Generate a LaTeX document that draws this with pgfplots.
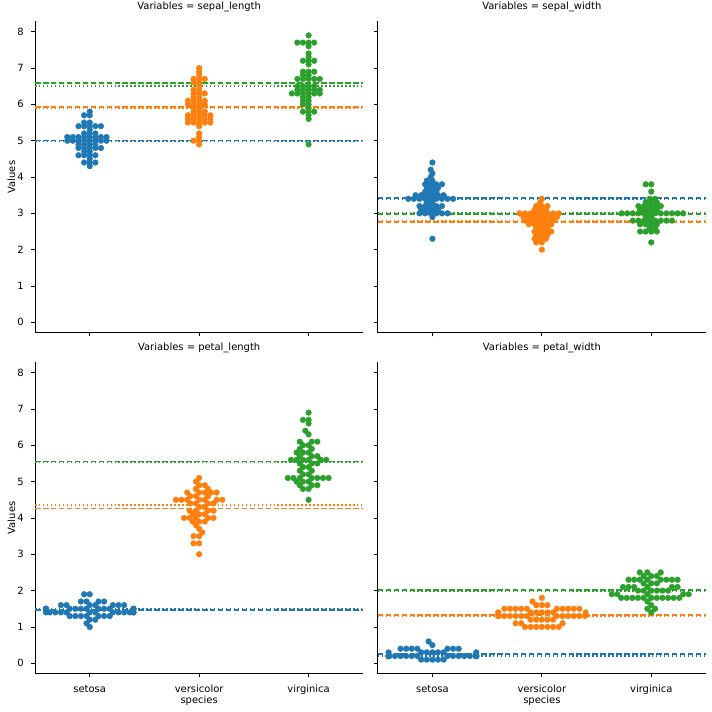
\documentclass[border=0pt]{standalone}
\usepackage{fontspec}
\setmainfont{DejaVu Sans}
\usepackage{pgfplots}
\pgfplotsset{compat=1.18}
\definecolor{cblue}{HTML}{1F77B4}
\definecolor{corange}{HTML}{FF7F0E}
\definecolor{cgreen}{HTML}{2CA02C}
\pgfplotsset{
  table/row sep=\\,
  facet/.style={
    scale only axis, width=328.3bp, height=311.7bp,
    xmin=-0.5, xmax=2.5, ymin=-0.29, ymax=8.29,
    axis lines*=left,
    axis line style={line width=0.8bp, black},
    xtick={0,1,2}, ytick={0,1,2,3,4,5,6,7,8},
    tick align=outside, major tick length=3.5bp,
    every tick/.style={black, line width=0.8bp},
    tick label style={font=\fontsize{10}{12}\selectfont, text=black},
    /pgf/number format/assume math mode=true,
    yticklabel style={anchor=east, inner sep=0pt, xshift=-7.5bp},
    xticklabel style={anchor=base, inner sep=0pt, yshift=-15.3bp},
    title style={at={(0.5,1)}, anchor=base, yshift=5.5bp, font=\fontsize{10}{12}\selectfont, inner sep=0pt},
    label style={font=\fontsize{10}{12}\selectfont},
    ylabel style={at={(axis description cs:-0.0609,0.5)}, anchor=base, inner sep=0pt},
    xlabel style={at={(axis description cs:0.5,-0.094)}, anchor=base, inner sep=0pt},
  },
  sw/.style={only marks, mark=*, mark size=2.85bp, mark options={draw=none}},
  mn/.style={line width=1.8bp, dash pattern=on 5.55bp off 2.4bp, forget plot},
  md/.style={line width=1.8bp, dash pattern=on 1.5bp off 2.475bp, forget plot},
}
\begin{document}
\begin{tikzpicture}[x=1bp,y=1bp]
\path[use as bounding box] (0,0) rectangle (712,712);

% ---------------- sepal_length ----------------
\begin{axis}[facet, at={(35bp,379.1bp)}, anchor=south west,
  title={Variables = sepal\_length}, ylabel={Values}, xticklabels={}]
\addplot[sw, cblue] table[x expr=\thisrow{d}*0.00975, y=v] {d v\\
0 4.3\\ 0 4.4\\ -5.25 4.4\\ 5.25 4.4\\ 0 4.5\\
0 4.6\\ -5.25 4.6\\ 5.25 4.6\\ -10.5 4.6\\ 0 4.7\\ -5.25 4.7\\
0 4.8\\ -5.25 4.8\\ 5.25 4.8\\ -10.5 4.8\\ 10.5 4.8\\
0 4.9\\ -5.25 4.9\\ 5.25 4.9\\ -10.5 4.9\\
0 5.0\\ -5.25 5.0\\ 5.25 5.0\\ -10.5 5.0\\ 10.5 5.0\\ -15.75 5.0\\ 15.75 5.0\\ -21 5.0\\
0 5.1\\ -5.25 5.1\\ 5.25 5.1\\ -10.5 5.1\\ 10.5 5.1\\ -15.75 5.1\\ 15.75 5.1\\ -21 5.1\\
0 5.2\\ -5.25 5.2\\ 5.25 5.2\\ 0 5.3\\
0 5.4\\ -5.25 5.4\\ 5.25 5.4\\ -10.5 5.4\\ 10.5 5.4\\
0 5.5\\ -5.25 5.5\\ 0 5.7\\ -5.25 5.7\\ 0 5.8\\
};
\addplot[sw, corange] table[x expr=1+\thisrow{d}*0.00975, y=v] {d v\\
0 4.9\\ 0 5.0\\ -5.25 5.0\\ 0 5.1\\ 0 5.2\\ 0 5.4\\
0 5.5\\ -5.25 5.5\\ 5.25 5.5\\ -10.5 5.5\\ 10.5 5.5\\
0 5.6\\ -5.25 5.6\\ 5.25 5.6\\ -10.5 5.6\\ 10.5 5.6\\
0 5.7\\ -5.25 5.7\\ 5.25 5.7\\ -10.5 5.7\\ 10.5 5.7\\
0 5.8\\ -5.25 5.8\\ 5.25 5.8\\ 0 5.9\\ -5.25 5.9\\
0 6.0\\ -5.25 6.0\\ 5.25 6.0\\ -10.5 6.0\\
0 6.1\\ -5.25 6.1\\ 5.25 6.1\\ -10.5 6.1\\
0 6.2\\ -5.25 6.2\\ 0 6.3\\ -5.25 6.3\\ 5.25 6.3\\
0 6.4\\ -5.25 6.4\\ 0 6.5\\ 0 6.6\\ -5.25 6.6\\
0 6.7\\ -5.25 6.7\\ 5.25 6.7\\ 0 6.8\\ 0 6.9\\ 0 7.0\\
};
\addplot[sw, cgreen] table[x expr=2+\thisrow{d}*0.00975, y=v] {d v\\
0 4.9\\ 0 5.6\\ 0 5.7\\ 0 5.8\\ -5.25 5.8\\ 5.25 5.8\\ 0 5.9\\
0 6.0\\ -5.25 6.0\\ 0 6.1\\ -5.25 6.1\\ 0 6.2\\ -5.25 6.2\\
0 6.3\\ -5.25 6.3\\ 5.25 6.3\\ -10.5 6.3\\ 10.5 6.3\\ -15.75 6.3\\
0 6.4\\ -5.25 6.4\\ 5.25 6.4\\ -10.5 6.4\\ 10.5 6.4\\
0 6.5\\ -5.25 6.5\\ 5.25 6.5\\ -10.5 6.5\\
0 6.7\\ -5.25 6.7\\ 5.25 6.7\\ -10.5 6.7\\ 10.5 6.7\\
0 6.8\\ -5.25 6.8\\ 0 6.9\\ -5.25 6.9\\ 5.25 6.9\\
0 7.1\\ 0 7.2\\ -5.25 7.2\\ 5.25 7.2\\ 0 7.3\\ 0 7.4\\ 0 7.6\\
0 7.7\\ -5.25 7.7\\ 5.25 7.7\\ -10.5 7.7\\ 0 7.9\\
};
\addplot[cblue, mn] coordinates {(-0.5,5.006) (2.5,5.006)};
\addplot[cblue, md] coordinates {(-0.5,5.0) (2.5,5.0)};
\addplot[corange, mn] coordinates {(-0.5,5.936) (2.5,5.936)};
\addplot[corange, md] coordinates {(-0.5,5.9) (2.5,5.9)};
\addplot[cgreen, mn] coordinates {(-0.5,6.588) (2.5,6.588)};
\addplot[cgreen, md] coordinates {(-0.5,6.5) (2.5,6.5)};
\end{axis}

% ---------------- sepal_width ----------------
\begin{axis}[facet, at={(377.7bp,379.1bp)}, anchor=south west,
  title={Variables = sepal\_width}, xticklabels={}, yticklabels={}]
\addplot[sw, cblue] table[x expr=\thisrow{d}*0.00975, y=v] {d v\\
0 2.3\\ 0 2.9\\
-1.6 3.0\\ 3.65 3.0\\ -6.85 3.0\\ 8.9 3.0\\ -12.1 3.0\\ 14.15 3.0\\
0 3.1\\ -5.25 3.1\\ 5.25 3.1\\ -10.5 3.1\\
-1.6 3.2\\ 3.65 3.2\\ -6.85 3.2\\ 8.9 3.2\\ -12.1 3.2\\
0 3.3\\ -5.25 3.3\\
-1.6 3.4\\ 3.65 3.4\\ -6.85 3.4\\ 8.9 3.4\\ -12.1 3.4\\ 14.15 3.4\\ -17.35 3.4\\ 19.4 3.4\\ -22.6 3.4\\
0 3.5\\ -5.25 3.5\\ 5.25 3.5\\ -10.5 3.5\\ 10.5 3.5\\ -15.75 3.5\\
-1.6 3.6\\ 3.65 3.6\\ -6.85 3.6\\
0 3.7\\ -5.25 3.7\\ 5.25 3.7\\
-1.6 3.8\\ 3.65 3.8\\ -6.85 3.8\\ 8.9 3.8\\
0 3.9\\ -5.25 3.9\\ -1.6 4.0\\ 0 4.1\\ -1.6 4.2\\ 0 4.4\\
};
\addplot[sw, corange] table[x expr=1+\thisrow{d}*0.00975, y=v] {d v\\
0 2.0\\ 0 2.2\\ -5.25 2.2\\
-1.6 2.3\\ 3.65 2.3\\ -6.85 2.3\\
0 2.4\\ -5.25 2.4\\ 5.25 2.4\\
-1.6 2.5\\ 3.65 2.5\\ -6.85 2.5\\ 8.9 2.5\\
0 2.6\\ -5.25 2.6\\ 5.25 2.6\\
-1.6 2.7\\ 3.65 2.7\\ -6.85 2.7\\ 8.9 2.7\\ -12.1 2.7\\
0 2.8\\ -5.25 2.8\\ 5.25 2.8\\ -10.5 2.8\\ 10.5 2.8\\ -15.75 2.8\\
-1.6 2.9\\ 3.65 2.9\\ -6.85 2.9\\ 8.9 2.9\\ -12.1 2.9\\ 14.15 2.9\\ -17.35 2.9\\
0 3.0\\ -5.25 3.0\\ 5.25 3.0\\ -10.5 3.0\\ 10.5 3.0\\ -15.75 3.0\\ 15.75 3.0\\ -21 3.0\\
-1.6 3.1\\ 3.65 3.1\\ -6.85 3.1\\
0 3.2\\ -5.25 3.2\\ 5.25 3.2\\
-1.6 3.3\\ 0 3.4\\
};
\addplot[sw, cgreen] table[x expr=2+\thisrow{d}*0.00975, y=v] {d v\\
0 2.2\\
0 2.5\\ -5.25 2.5\\ 5.25 2.5\\ -10.5 2.5\\
-1.6 2.6\\ 3.65 2.6\\
0 2.7\\ -5.25 2.7\\ 5.25 2.7\\ -10.5 2.7\\
-1.6 2.8\\ 3.65 2.8\\ -6.85 2.8\\ 8.9 2.8\\ -12.1 2.8\\ 14.15 2.8\\ -17.35 2.8\\ 19.4 2.8\\
0 2.9\\ -5.25 2.9\\
-1.6 3.0\\ 3.65 3.0\\ -6.85 3.0\\ 8.9 3.0\\ -12.1 3.0\\ 14.15 3.0\\ -17.35 3.0\\ 19.4 3.0\\ -22.6 3.0\\ 24.65 3.0\\ -27.85 3.0\\ 29.9 3.0\\
0 3.1\\ -5.25 3.1\\ 5.25 3.1\\ -10.5 3.1\\
-1.6 3.2\\ 3.65 3.2\\ -6.85 3.2\\ 8.9 3.2\\ -12.1 3.2\\
0 3.3\\ -5.25 3.3\\ 5.25 3.3\\
-1.6 3.4\\ 3.65 3.4\\ 0 3.6\\ 0 3.8\\ -5.25 3.8\\
};
\addplot[cblue, mn] coordinates {(-0.5,3.428) (2.5,3.428)};
\addplot[cblue, md] coordinates {(-0.5,3.4) (2.5,3.4)};
\addplot[corange, mn] coordinates {(-0.5,2.770) (2.5,2.770)};
\addplot[corange, md] coordinates {(-0.5,2.8) (2.5,2.8)};
\addplot[cgreen, mn] coordinates {(-0.5,2.974) (2.5,2.974)};
\addplot[cgreen, md] coordinates {(-0.5,3.0) (2.5,3.0)};
\end{axis}

% ---------------- petal_length ----------------
\begin{axis}[facet, at={(35bp,38.2bp)}, anchor=south west,
  title={Variables = petal\_length}, ylabel={Values}, xlabel={species},
  xticklabels={setosa,versicolor,virginica}]
\addplot[sw, cblue] table[x expr=\thisrow{d}*0.00975, y=v] {d v\\
0 1.0\\ -2.99 1.1\\ 0 1.2\\ 5.25 1.2\\
-18.74 1.3\\ -13.49 1.3\\ -8.24 1.3\\ -2.99 1.3\\ 8.24 1.3\\ 13.49 1.3\\ 18.74 1.3\\
0 1.4\\ 5.25 1.4\\ 21.73 1.4\\ -21.73 1.4\\ 26.98 1.4\\ -26.98 1.4\\ 32.23 1.4\\ -32.23 1.4\\ 37.48 1.4\\ -37.48 1.4\\ 41.03 1.4\\ -41.03 1.4\\ 41.03 1.4\\
-2.99 1.5\\ 8.24 1.5\\ -8.24 1.5\\ 13.49 1.5\\ -13.49 1.5\\ 18.74 1.5\\ -18.74 1.5\\ -41.03 1.5\\ -41.03 1.5\\ -41.03 1.5\\ 41.03 1.5\\ 41.03 1.5\\ 41.03 1.5\\
0 1.6\\ 5.25 1.6\\ 21.73 1.6\\ -21.73 1.6\\ 26.98 1.6\\ -26.98 1.6\\ 32.23 1.6\\
-2.99 1.7\\ 8.24 1.7\\ -8.24 1.7\\ 13.49 1.7\\
0 1.9\\ -5.25 1.9\\
};
\addplot[sw, corange] table[x expr=1+\thisrow{d}*0.00975, y=v] {d v\\
0 3.0\\ 0 3.3\\ -5.25 3.3\\ 0 3.5\\ -5.25 3.5\\
2.99 3.6\\ 0 3.7\\ -2.99 3.8\\
0 3.9\\ 5.25 3.9\\ -5.98 3.9\\
-14.22 4.0\\ -8.97 4.0\\ -2.99 4.0\\ 8.24 4.0\\ 13.49 4.0\\
0 4.1\\ 5.25 4.1\\ -5.98 4.1\\
-2.99 4.2\\ 8.24 4.2\\ -8.97 4.2\\ 13.49 4.2\\
0 4.3\\ 5.25 4.3\\
-2.99 4.4\\ 8.24 4.4\\ -8.24 4.4\\ 13.49 4.4\\
0 4.5\\ 5.25 4.5\\ -11.23 4.5\\ 16.48 4.5\\ -16.48 4.5\\ 21.73 4.5\\ -21.73 4.5\\
-8.24 4.6\\ -2.99 4.6\\ 8.24 4.6\\
0 4.7\\ 5.25 4.7\\ 11.23 4.7\\ -11.23 4.7\\ 16.48 4.7\\
-2.99 4.8\\ 8.24 4.8\\ 0 4.9\\ 5.25 4.9\\
-2.99 5.0\\ 0 5.1\\
};
\addplot[sw, cgreen] table[x expr=2+\thisrow{d}*0.00975, y=v] {d v\\
0 4.5\\ 0 4.8\\ -5.25 4.8\\
-8.24 4.9\\ 2.99 4.9\\ 8.24 4.9\\
-11.23 5.0\\ -5.25 5.0\\ 0 5.0\\
-19.47 5.1\\ -14.22 5.1\\ -8.24 5.1\\ 2.99 5.1\\ 8.24 5.1\\ 13.49 5.1\\ 18.74 5.1\\
0 5.2\\ -5.25 5.2\\ -8.24 5.3\\ 2.99 5.3\\ 0 5.4\\ -5.25 5.4\\
2.99 5.5\\ -8.24 5.5\\ 8.24 5.5\\
-16.48 5.6\\ -11.23 5.6\\ -5.25 5.6\\ 0 5.6\\ 11.23 5.6\\ 16.48 5.6\\
-8.24 5.7\\ 2.99 5.7\\ 8.24 5.7\\
0 5.8\\ -5.25 5.8\\ -11.23 5.8\\
2.99 5.9\\ -8.24 5.9\\ 0 6.0\\ -5.25 6.0\\
2.99 6.1\\ -8.24 6.1\\ 8.24 6.1\\
0 6.3\\ -2.99 6.4\\ 0 6.6\\ 0 6.7\\ -5.25 6.7\\ 0 6.9\\
};
\addplot[cblue, mn] coordinates {(-0.5,1.462) (2.5,1.462)};
\addplot[cblue, md] coordinates {(-0.5,1.5) (2.5,1.5)};
\addplot[corange, mn] coordinates {(-0.5,4.260) (2.5,4.260)};
\addplot[corange, md] coordinates {(-0.5,4.35) (2.5,4.35)};
\addplot[cgreen, mn] coordinates {(-0.5,5.552) (2.5,5.552)};
\addplot[cgreen, md] coordinates {(-0.5,5.55) (2.5,5.55)};
\end{axis}

% ---------------- petal_width ----------------
\begin{axis}[facet, at={(377.7bp,38.2bp)}, anchor=south west,
  title={Variables = petal\_width}, xlabel={species}, yticklabels={},
  xticklabels={setosa,versicolor,virginica}]
\addplot[sw, cblue] table[x expr=\thisrow{d}*0.00975, y=v] {d v\\
0 0.1\\ -5.25 0.1\\ 5.25 0.1\\ -10.5 0.1\\ 10.5 0.1\\
-14.11 0.2\\ 14.11 0.2\\ -19.36 0.2\\ 19.36 0.2\\ -24.61 0.2\\ 24.61 0.2\\ -29.86 0.2\\ 29.86 0.2\\ -35.11 0.2\\ 35.11 0.2\\ -40.36 0.2\\ 40.36 0.2\\
-41.03 0.2\\ -41.03 0.2\\ -41.03 0.2\\ -41.03 0.2\\ -41.03 0.2\\ -41.03 0.2\\ -41.03 0.2\\ -41.03 0.2\\ -41.03 0.2\\
41.03 0.2\\ 41.03 0.2\\ 41.03 0.2\\ 41.03 0.2\\ 41.03 0.2\\ 41.03 0.2\\ 41.03 0.2\\ 41.03 0.2\\
0 0.3\\ -5.25 0.3\\ 5.25 0.3\\ -10.5 0.3\\ 10.5 0.3\\ 41.03 0.3\\ -41.03 0.3\\
-14.11 0.4\\ 14.11 0.4\\ -19.36 0.4\\ 19.36 0.4\\ -24.61 0.4\\ 24.61 0.4\\ -29.86 0.4\\
0 0.5\\ -3.61 0.6\\
};
\addplot[sw, corange] table[x expr=1+\thisrow{d}*0.00975, y=v] {d v\\
0 1.0\\ -5.25 1.0\\ 5.25 1.0\\ -10.5 1.0\\ 10.5 1.0\\ -15.75 1.0\\ 15.75 1.0\\
-24.61 1.1\\ -19.36 1.1\\ 19.36 1.1\\
0 1.2\\ -5.25 1.2\\ 5.25 1.2\\ -10.5 1.2\\ 10.5 1.2\\
-14.11 1.3\\ 14.11 1.3\\ -19.36 1.3\\ 19.36 1.3\\ -24.61 1.3\\ 24.61 1.3\\ -29.86 1.3\\ 29.86 1.3\\ -35.11 1.3\\ 35.11 1.3\\ -40.36 1.3\\ 40.36 1.3\\ -41.03 1.3\\
0 1.4\\ -5.25 1.4\\ 5.25 1.4\\ -10.5 1.4\\ 10.5 1.4\\ 41.03 1.4\\ -41.03 1.4\\
-14.11 1.5\\ 14.11 1.5\\ -19.36 1.5\\ 19.36 1.5\\ -24.61 1.5\\ 24.61 1.5\\ -29.86 1.5\\ 29.86 1.5\\ -35.11 1.5\\ 35.11 1.5\\
0 1.6\\ -5.25 1.6\\ 5.25 1.6\\ -8.86 1.7\\ 0 1.8\\
};
\addplot[sw, cgreen] table[x expr=2+\thisrow{d}*0.00975, y=v] {d v\\
0 1.4\\ -3.61 1.5\\ 3.61 1.5\\ 0 1.6\\ -3.61 1.7\\
-28.22 1.8\\ -22.97 1.8\\ -17.72 1.8\\ -12.47 1.8\\ -7.22 1.8\\ 0 1.8\\ 5.25 1.8\\ 10.5 1.8\\ 15.75 1.8\\ 21 1.8\\ 26.25 1.8\\
-37.08 1.9\\ -31.83 1.9\\ -3.61 1.9\\ 29.86 1.9\\ 35.11 1.9\\
-12.47 2.0\\ -7.22 2.0\\ 0 2.0\\ 5.25 2.0\\ 10.5 2.0\\ 15.75 2.0\\
-26.58 2.1\\ -21.33 2.1\\ -16.08 2.1\\ -3.61 2.1\\ 19.36 2.1\\ 24.61 2.1\\
-7.22 2.2\\ 0 2.2\\ 5.25 2.2\\
-21.33 2.3\\ -16.08 2.3\\ -10.83 2.3\\ -3.61 2.3\\ 8.86 2.3\\ 14.11 2.3\\ 19.36 2.3\\ 24.61 2.3\\
-7.22 2.4\\ 0 2.4\\ 5.25 2.4\\
-10.83 2.5\\ -3.61 2.5\\ 8.86 2.5\\
};
\addplot[cblue, mn] coordinates {(-0.5,0.246) (2.5,0.246)};
\addplot[cblue, md] coordinates {(-0.5,0.2) (2.5,0.2)};
\addplot[corange, mn] coordinates {(-0.5,1.326) (2.5,1.326)};
\addplot[corange, md] coordinates {(-0.5,1.3) (2.5,1.3)};
\addplot[cgreen, mn] coordinates {(-0.5,2.026) (2.5,2.026)};
\addplot[cgreen, md] coordinates {(-0.5,2.0) (2.5,2.0)};
\end{axis}
\end{tikzpicture}
\end{document}
